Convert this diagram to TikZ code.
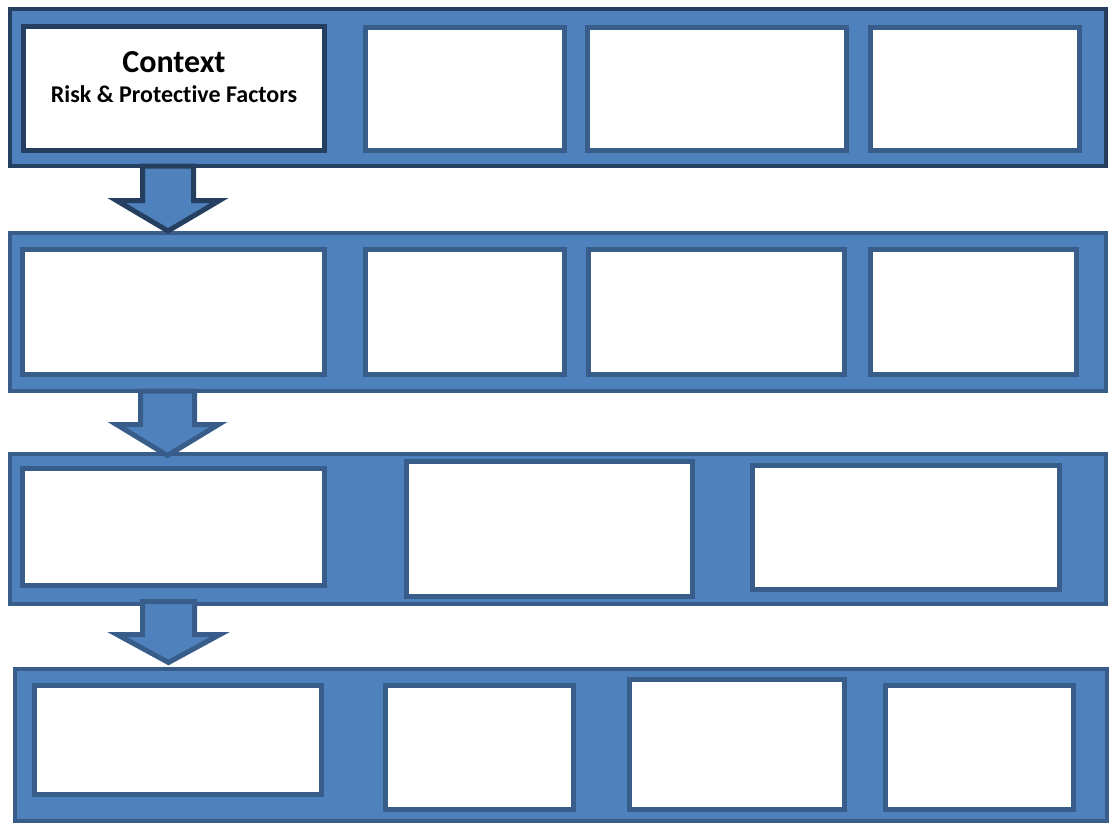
\documentclass[tikz,border=0pt]{standalone}
\usepackage{fontspec}
\setmainfont{Carlito}[Ligatures=NoCommon]
\definecolor{bandblue}{HTML}{4F81BD}
\definecolor{edgeblue}{HTML}{385D8A}
\definecolor{darkblue}{HTML}{243F60}
\begin{document}
\begin{tikzpicture}[x=1pt, y=-1pt,
    band/.style={draw=edgeblue, fill=bandblue, line width=4pt, minimum width=1096pt, inner sep=0pt, outer sep=0pt},
    slot/.style={draw=edgeblue, fill=white, line width=5pt, inner sep=0pt, outer sep=0pt},
    blockarrow/.style={draw=edgeblue, fill=bandblue, line width=5pt, line join=miter}]
    \useasboundingbox (0,0) rectangle (1110,825);
    % bands
    \node[band, draw=darkblue, minimum height=157pt] (band_1) at (558,87.5) {};
    \node[band, minimum height=158pt] (band_2) at (558,312) {};
    \node[band, minimum height=150pt] (band_3) at (558,529) {};
    \node[band, minimum width=1092pt, minimum height=152pt] (band_4) at (561,745) {};
    % first row
    \node[slot, draw=darkblue, minimum width=301pt, minimum height=124pt] (s_11) at (174,88.5) {};
    \node[slot, minimum width=199pt, minimum height=123pt] (s_12) at (465,89) {};
    \node[slot, minimum width=259pt, minimum height=123pt] (s_13) at (717,89) {};
    \node[slot, minimum width=209pt, minimum height=123pt] (s_14) at (975,89) {};
    \node[anchor=base, inner sep=0pt] (ctx) at (174,72) {\fontsize{32}{36}\selectfont\bfseries Context};
    \node[anchor=base, inner sep=0pt] (rpf) at (174,102) {\fontsize{24}{28}\selectfont\bfseries Risk \& Protective Factors};
    % second row
    \node[slot, minimum width=302pt, minimum height=125pt] (s_21) at (173.5,312) {};
    \node[slot, minimum width=199pt, minimum height=125pt] (s_22) at (465,312) {};
    \node[slot, minimum width=256pt, minimum height=125pt] (s_23) at (716.5,312) {};
    \node[slot, minimum width=206pt, minimum height=125pt] (s_24) at (973.5,312) {};
    % third row
    \node[slot, minimum width=302pt, minimum height=117pt] (s_31) at (173.5,527) {};
    \node[slot, minimum width=286pt, minimum height=135pt] (s_32) at (549.5,529) {};
    \node[slot, minimum width=307pt, minimum height=124pt] (s_33) at (906,527.5) {};
    % fourth row
    \node[slot, minimum width=287pt, minimum height=109pt] (s_41) at (178,740) {};
    \node[slot, minimum width=188pt, minimum height=124pt] (s_42) at (479.5,747.5) {};
    \node[slot, minimum width=215pt, minimum height=130pt] (s_43) at (737,744.5) {};
    \node[slot, minimum width=188pt, minimum height=124pt] (s_44) at (979.5,747.5) {};
    % arrows between bands
    \coordinate (a_1) at (168,166);
    \coordinate (a_2) at (167.5,391);
    \coordinate (a_3) at (168.5,601.5);
    \draw[blockarrow, draw=darkblue] (a_1) ++(-25.5,0) -- ++(0,34.5) -- ++(-26,0) -- ++(51.5,30.5)
        -- ++(51.5,-30.5) -- ++(-26,0) -- ++(0,-34.5) -- cycle;
    \draw[blockarrow] (a_2) ++(-27,0) -- ++(0,33.5) -- ++(-24,0) -- ++(51,31)
        -- ++(51,-31) -- ++(-24,0) -- ++(0,-33.5) -- cycle;
    \draw[blockarrow] (a_3) ++(-26,0) -- ++(0,33) -- ++(-25.5,0) -- ++(51.5,28)
        -- ++(51.5,-28) -- ++(-25.5,0) -- ++(0,-33) -- cycle;
\end{tikzpicture}
\end{document}
